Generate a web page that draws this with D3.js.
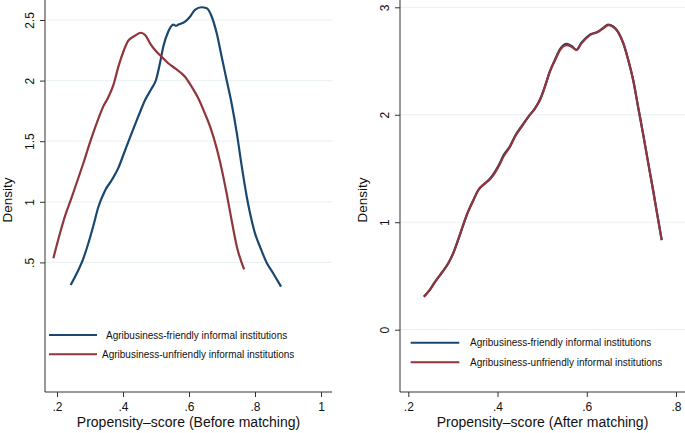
<!DOCTYPE html>
<html><head><meta charset="utf-8">
<script src="https://cdn.jsdelivr.net/npm/d3@7"></script>
<style>body{margin:0;background:#fff;}svg{display:block;font-family:"Liberation Sans",Arial,sans-serif;}</style>
</head><body>
<svg id="c" width="685" height="433"></svg>
<script>
// ---- data ----
const seriesNames = ["Agribusiness-friendly informal institutions", "Agribusiness-unfriendly informal institutions"];
const beforeFriendlyX = [0.2415,0.26,0.28,0.295,0.31,0.325,0.345,0.366,0.386,0.401,0.426,0.446,0.467,0.487,0.5,0.512,0.522,0.537,0.552,0.56,0.568,0.588,0.603,0.618,0.638,0.654,0.669,0.684,0.699,0.714,0.729,0.745,0.76,0.775,0.785,0.8,0.815,0.835,0.855,0.879];
const beforeFriendlyY = [0.314,0.41,0.534,0.658,0.8,0.955,1.09,1.18,1.28,1.386,1.565,1.702,1.84,1.936,2.005,2.143,2.28,2.403,2.462,2.452,2.462,2.486,2.527,2.583,2.605,2.597,2.527,2.39,2.197,2.005,1.813,1.565,1.29,1.042,0.905,0.74,0.63,0.5,0.41,0.3];
const beforeUnfriendlyX = [0.189,0.209,0.224,0.245,0.255,0.28,0.3,0.31,0.33,0.34,0.355,0.371,0.386,0.401,0.416,0.436,0.454,0.467,0.482,0.497,0.517,0.537,0.558,0.588,0.608,0.628,0.648,0.664,0.684,0.694,0.714,0.729,0.745,0.767];
const beforeUnfriendlyY = [0.534,0.74,0.88,1.04,1.12,1.32,1.49,1.57,1.72,1.785,1.86,1.964,2.115,2.238,2.329,2.37,2.395,2.376,2.308,2.252,2.197,2.143,2.101,2.032,1.95,1.854,1.73,1.62,1.441,1.33,1.07,0.85,0.63,0.443];
const afterX = [0.235,0.249,0.26,0.275,0.29,0.301,0.312,0.323,0.334,0.346,0.357,0.372,0.383,0.394,0.405,0.413,0.428,0.439,0.454,0.469,0.484,0.495,0.506,0.517,0.529,0.54,0.555,0.566,0.577,0.588,0.607,0.626,0.637,0.648,0.659,0.67,0.682,0.693,0.704,0.715,0.726,0.738,0.749,0.756,0.768];
const afterFriendlyY = [0.307,0.375,0.445,0.53,0.62,0.715,0.84,0.974,1.098,1.207,1.3,1.362,1.405,1.47,1.55,1.62,1.71,1.8,1.895,1.981,2.06,2.14,2.26,2.4,2.515,2.61,2.66,2.64,2.605,2.67,2.745,2.775,2.808,2.838,2.822,2.772,2.664,2.509,2.323,2.074,1.827,1.545,1.29,1.12,0.834];
const afterUnfriendlyY = [0.307,0.375,0.445,0.53,0.62,0.715,0.84,0.974,1.098,1.207,1.3,1.362,1.4,1.46,1.54,1.609,1.702,1.795,1.888,1.981,2.06,2.137,2.26,2.4,2.509,2.602,2.648,2.633,2.602,2.664,2.741,2.772,2.804,2.834,2.819,2.772,2.664,2.509,2.323,2.074,1.827,1.545,1.29,1.12,0.834];
const beforeXTicks = [0.2,0.4,0.6,0.8,1];
const beforeYTicks = [0.5,1,1.5,2,2.5];
const afterXTicks = [0.2,0.4,0.6,0.8];
const afterYTicks = [0,1,2,3];
const colors = ["#1a476f","#90353b"];

const svg = d3.select("#c");
const fmt = v => { let s = String(v); return s.startsWith("0.") ? s.slice(1) : s; };

function panel(cfg){
  const g = svg.append("g");
  const x = d3.scaleLinear().domain(cfg.xDom).range(cfg.xRange);
  const y = d3.scaleLinear().domain(cfg.yDom).range(cfg.yRange);
  g.selectAll(".grid").data(cfg.yTicks).enter().append("line")
    .attr("x1", cfg.left).attr("x2", cfg.right)
    .attr("y1", d=>y(d)).attr("y2", d=>y(d))
    .attr("stroke","#eaf2f3").attr("stroke-width",1.2);
  const xa = g.append("g").attr("transform",`translate(0,${cfg.bottom})`)
    .call(d3.axisBottom(x).tickValues(cfg.xTicks).tickFormat(fmt).tickSize(5).tickSizeOuter(0));
  xa.select(".domain").attr("d",`M${cfg.left},0H${cfg.right}`).attr("stroke","#333");
  xa.selectAll(".tick line").attr("stroke","#333");
  xa.selectAll(".tick text").attr("font-size",12).attr("fill","#111").attr("dy","0.95em");
  const ya = g.append("g").attr("transform",`translate(${cfg.left},0)`)
    .call(d3.axisLeft(y).tickValues(cfg.yTicks).tickFormat(fmt).tickSize(5).tickSizeOuter(0));
  ya.select(".domain").attr("d",`M0,${cfg.top}V${cfg.bottom}`).attr("stroke","#333");
  ya.selectAll(".tick line").attr("stroke","#333");
  ya.selectAll(".tick text").attr("font-size",12).attr("fill","#111")
    .attr("x",null).attr("dy",null)
    .attr("text-anchor","middle")
    .attr("transform","translate(-15,0) rotate(-90)")
    .attr("dominant-baseline","central");
  g.append("text").attr("x",(cfg.left+cfg.right)/2).attr("y",427)
    .attr("text-anchor","middle").attr("font-size",14).attr("fill","#111").text(cfg.xTitle);
  g.append("text").attr("transform",`translate(${cfg.yTitleX},200) rotate(-90)`)
    .attr("text-anchor","middle").attr("font-size",13.5).attr("fill","#111").text("Density");
  const line = d3.line().x(d=>x(d[0])).y(d=>y(d[1])).curve(d3.curveMonotoneX);
  cfg.series.forEach((s,i)=>{
    g.append("path").datum(s.xs.map((v,k)=>[v,s.ys[k]]))
      .attr("d",line).attr("fill","none").attr("stroke",colors[i])
      .attr("stroke-width",2.2).attr("stroke-linejoin","round");
  });
  seriesNames.forEach((n,i)=>{
    const ly = cfg.legY[i];
    g.append("line").attr("x1",cfg.legX[0]).attr("x2",cfg.legX[1]).attr("y1",ly).attr("y2",ly)
      .attr("stroke",colors[i]).attr("stroke-width",2);
    g.append("text").attr("x",cfg.legTextX[i]).attr("y",ly).attr("dominant-baseline","central")
      .attr("font-size",10).attr("fill","#111").text(n);
  });
}

panel({
  xDom:[0.2,1], xRange:[57,321], yDom:[0,2.5], yRange:[323,20],
  left:45, right:332, top:0, bottom:392,
  xTicks:beforeXTicks, yTicks:beforeYTicks,
  xTitle:"Propensity\u2013score (Before matching)", yTitleX:12,
  series:[{xs:beforeFriendlyX,ys:beforeFriendlyY},{xs:beforeUnfriendlyX,ys:beforeUnfriendlyY}],
  legX:[49,97], legY:[335,354.3], legTextX:[106,102]
});
panel({
  xDom:[0.2,0.8], xRange:[408.3,676], yDom:[0,3], yRange:[329.7,7.3],
  left:400, right:685, top:0, bottom:392,
  xTicks:afterXTicks, yTicks:afterYTicks,
  xTitle:"Propensity\u2013score (After matching)", yTitleX:367,
  series:[{xs:afterX,ys:afterFriendlyY},{xs:afterX,ys:afterUnfriendlyY}],
  legX:[410.7,459.3], legY:[342.7,362.3], legTextX:[470,470]
});
</script>
</body></html>
